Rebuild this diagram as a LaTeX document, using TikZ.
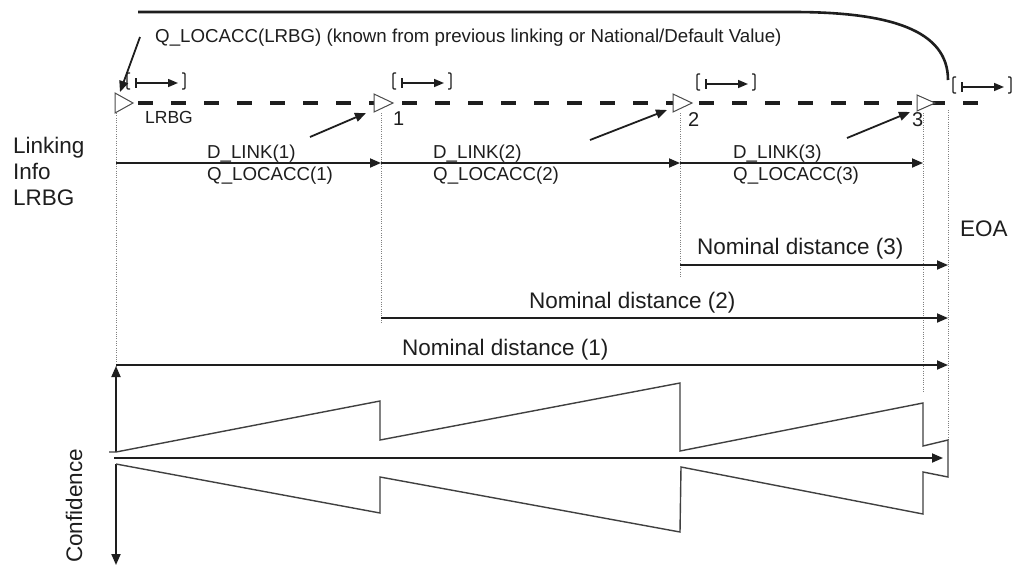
\documentclass[tikz,border=0pt]{standalone}
\usepackage{fontspec}
\setmainfont{Liberation Sans}
\usetikzlibrary{arrows.meta}
\definecolor{ink}{HTML}{1E1E1E}

\tikzset{
  rangemark/.pic={
    % opening bracket, start bar, direction arrow, closing bracket
    \draw[ink, line width=1.2pt, rounded corners=1pt] (3,-10) -- (0,-10) -- (0,6) -- (3,6);
    \draw[ink, line width=1.5pt] (9,-5) -- (9,5);
    \draw[ink, line width=1.5pt, -{Triangle[length=10pt,width=8pt]}] (9,0) -- (51,0);
    \draw[ink, line width=1.2pt, rounded corners=1pt] (55,-10) -- (58,-10) -- (58,6) -- (55,6);
  }
}

\begin{document}
\begin{tikzpicture}[x=1pt,y=-1pt,
  line/.style={draw=ink, line width=1.8pt},
  arr/.style={line, -{Triangle[length=11pt,width=9pt]}},
  guide/.style={draw=gray, line width=0.8pt, dash pattern=on 1pt off 1.3pt},
  track/.style={draw=ink, line width=4.5pt, dash pattern=on 15pt off 18pt},
  balise/.style={draw=ink!80, line width=1pt, fill=white, line join=miter},
  saw/.style={draw=ink!85, line width=1.4pt, line join=miter},
  lbl/.style={inner sep=0pt, anchor=base west, text=ink},
  smalltxt/.style={lbl, font=\fontsize{18.7}{22}\selectfont},
  bigtxt/.style={lbl, font=\fontsize{22.5}{26}\selectfont},
  numtxt/.style={lbl, font=\fontsize{20}{24}\selectfont},
]
\fill[white] (0,0) rectangle (1014,566);
\useasboundingbox (0,0) rectangle (1014,566);

% ---- reference points ----
\coordinate (p0) at (116,163);
\coordinate (p1) at (381,163);
\coordinate (p2) at (680,163);
\coordinate (p3) at (923,163);
\coordinate (eoa3) at (948,265);
\coordinate (eoa2) at (948,318);
\coordinate (eoa1) at (948,365);
\coordinate (nd3) at (680,265);
\coordinate (nd2) at (381,318);
\coordinate (nd1) at (116,365);

% ---- dotted guides ----
\draw[guide] (116,113) -- (116,402);
\draw[guide] (381,113) -- (381,323);
\draw[guide] (680,113) -- (680,277);
\draw[guide] (923,113) -- (923,392);
\draw[guide] (948,110) -- (948,440);

% ---- track with balise groups ----
\coordinate (trackA) at (138,103);
\coordinate (trackB) at (978,103);
\draw[track] (trackA) -- (trackB);

\draw[balise] (115,93) -- (133,103) -- (115,113) -- cycle;
\draw[balise] (374,94) -- (393,103) -- (374,112) -- cycle;
\draw[balise] (673,94) -- (692,103) -- (673,112) -- cycle;
\draw[balise] (917,95) -- (935,103) -- (917,111) -- cycle;

\node[smalltxt, font=\fontsize{17.5}{20}\selectfont] (lrbglbl) at (145,123) {LRBG};
\node[numtxt] (n1) at (393,125) {1};
\node[numtxt] (n2) at (688,126) {2};
\node[numtxt] (n3) at (912,126) {3};

\pic at (127,83) {rangemark};
\pic at (393,83) {rangemark};
\pic at (697,84) {rangemark};
\pic at (953,87) {rangemark};

% ---- long bracket to the end of authority ----
\coordinate (topA) at (138,12);
\coordinate (topB) at (793,12);
\coordinate (topC) at (948,80);
\draw[draw=ink, line width=2.6pt] (topA) -- (topB) .. controls (890,12) and (948,30) .. (topC);

\node[smalltxt] (qlrbg) at (155,42) {Q\_LOCACC(LRBG) (known from previous linking or National/Default Value)};
\coordinate (qa) at (140,37);
\coordinate (qb) at (120,92);
\draw[arr] (qa) -- (qb);

% pointers to balise groups 1..3
\coordinate (s1) at (310,137); \coordinate (t1) at (366,113);
\coordinate (s2) at (590,140); \coordinate (t2) at (667,110);
\coordinate (s3) at (847,138); \coordinate (t3) at (910,112);
\draw[arr] (s1) -- (t1);
\draw[arr] (s2) -- (t2);
\draw[arr] (s3) -- (t3);

% ---- linking information ----
\node[bigtxt] (lk1) at (13,153) {Linking};
\node[bigtxt] (lk2) at (13,179) {Info};
\node[bigtxt] (lk3) at (13,205) {LRBG};

\draw[arr] (p0) -- (p1);
\draw[arr] (p1) -- (p2);
\draw[arr] (p2) -- (p3);

\node[smalltxt] (dl1) at (207,158) {D\_LINK(1)};
\node[smalltxt] (ql1) at (207,180) {Q\_LOCACC(1)};
\node[smalltxt] (dl2) at (433,158) {D\_LINK(2)};
\node[smalltxt] (ql2) at (433,180) {Q\_LOCACC(2)};
\node[smalltxt] (dl3) at (733,158) {D\_LINK(3)};
\node[smalltxt] (ql3) at (733,180) {Q\_LOCACC(3)};

\node[bigtxt] (eoa) at (960,236) {EOA};

% ---- nominal distances ----
\draw[arr] (nd3) -- (eoa3);
\draw[arr] (nd2) -- (eoa2);
\draw[arr] (nd1) -- (eoa1);
\node[bigtxt] (nom3) at (697,254) {Nominal distance (3)};
\node[bigtxt] (nom2) at (529,308) {Nominal distance (2)};
\node[bigtxt] (nom1) at (402,355) {Nominal distance (1)};

% ---- confidence interval ----
\coordinate (cu0) at (116,452);
\coordinate (cu1) at (116,366);
\coordinate (cd0) at (116,464);
\coordinate (cd1) at (116,565);
\coordinate (ax0) at (114,458);
\coordinate (ax1) at (943,458);
\draw[arr] (cu0) -- (cu1);
\draw[arr] (cd0) -- (cd1);
\draw[arr] (ax0) -- (ax1);

\draw[saw] (109,452) -- (cu0) -- (380,401) -- (380,440) -- (680,383) -- (680,451)
  -- (923,403) -- (923,446) -- (948,440) -- (948,477) -- (923,472) -- (923,514)
  -- (681,467) -- (680,532) -- (380,477) -- (380,513) -- (cd0);

\node[bigtxt, rotate=90] (conf) at (82,563) {Confidence};
\end{tikzpicture}
\end{document}
